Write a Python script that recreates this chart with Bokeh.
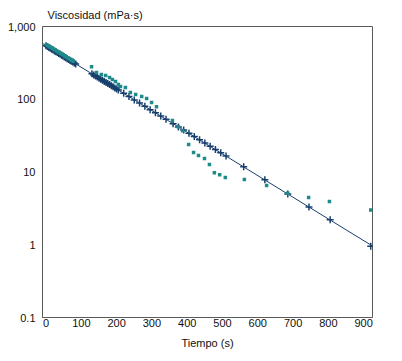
from bokeh.plotting import figure
from bokeh.models import Range1d, FixedTicker
from bokeh.embed import file_html
from bokeh.resources import INLINE

# Series A (crosses) - time (s) and viscosity (mPa·s)
time_a = [0, 4, 8, 12, 16, 20, 24, 28, 32, 36, 40, 44, 48, 52, 56, 60, 64, 68, 72, 76, 80, 84,
          130, 135, 140, 145, 150, 155, 160, 165, 170, 175, 180, 185, 190, 195, 200, 205,
          220, 235, 250, 265, 280, 295, 310, 325, 340, 360, 375, 390, 405, 420, 435, 450,
          465, 480, 495, 510, 560, 620, 685, 745, 805, 920]
visc_a = [545, 530, 516, 502, 488, 475, 462, 450, 438, 426, 414, 403, 392, 382, 371, 361, 352,
          342, 333, 324, 315, 306,
          224, 216, 209, 202, 195, 188, 182, 176, 170, 164, 159, 153, 148, 143, 138, 134,
          121, 109, 98, 89, 80, 72, 65, 59, 53, 46, 41.7, 37.7, 34.0, 30.7, 27.7, 25.0,
          22.6, 20.4, 18.4, 16.6, 11.8, 7.8, 5.0, 3.3, 2.2, 0.95]

# Series B (squares)
time_b = [1, 5, 9, 13, 17, 21, 25, 29, 33, 37, 41, 45, 49, 53, 57, 61, 65, 69, 73, 77,
          129, 143, 157, 169, 180, 188, 197, 205, 211, 225, 239, 254, 271, 285, 299, 313,
          358, 375, 387, 404, 418, 432, 449, 463, 477, 492, 508, 562, 625, 685, 744, 803, 920]
visc_b = [560, 548, 533, 519, 505, 491, 478, 465, 452, 440, 428, 416, 405, 394, 383, 373, 363,
          353, 343, 334,
          280, 233, 219, 212, 199, 187, 175, 160, 150, 145, 124, 116, 109, 102, 90, 79,
          51, 42, 37, 23.9, 18.5, 16.9, 15.3, 12.7, 9.8, 9.2, 8.4, 7.9, 6.5, 5.1, 4.46, 3.94, 3.0]

# Fitted exponential line endpoints
fit_time = [-10, 925]
fit_visc = [584, 0.96]

x_ticks = [0, 100, 200, 300, 400, 500, 600, 700, 800, 900]
y_ticks = [0.1, 1, 10, 100, 1000]
y_tick_labels = {0.1: "0.1", 1: "1", 10: "10", 100: "100", 1000: "1,000"}

FONT = "Liberation Sans"
NAVY = "#173f6e"
TEAL = "#1f8a8a"
GRAY = "#5a5a5a"

p = figure(frame_width=330, frame_height=291, output_backend="svg", toolbar_location=None,
           x_range=Range1d(-10, 925), y_range=Range1d(0.1, 1000), y_axis_type="log",
           min_border_left=42, min_border_right=19, min_border_top=0, min_border_bottom=0,
           title="Viscosidad (mPa·s)")
p.background_fill_color = "white"
p.border_fill_color = "white"
p.outline_line_color = GRAY
p.grid.visible = False

p.title.align = "left"
p.title.offset = 5
p.title.text_font = FONT
p.title.text_font_size = "11px"
p.title.text_font_style = "normal"
p.title.text_color = "#111111"
p.title.standoff = 12
p.title.vertical_align = "bottom"

p.xaxis.ticker = FixedTicker(ticks=x_ticks)
p.yaxis.ticker = FixedTicker(ticks=y_ticks)
p.yaxis.major_label_overrides = y_tick_labels
p.xaxis.axis_label = "Tiempo (s)"
for ax in (p.xaxis, p.yaxis):
    ax.axis_line_color = GRAY
    ax.major_tick_line_color = None
    ax.minor_tick_line_color = None
    ax.major_tick_out = 0
    ax.major_tick_in = 0
    ax.minor_tick_out = 0
    ax.minor_tick_in = 0
    ax.major_label_text_font = FONT
    ax.major_label_text_font_size = "11px"
    ax.major_label_text_color = "#111111"
    ax.axis_label_text_font = FONT
    ax.axis_label_text_font_size = "11px"
    ax.axis_label_text_font_style = "normal"
    ax.axis_label_text_color = "#111111"
p.xaxis.major_label_standoff = 1
p.xaxis.axis_label_standoff = 7
p.yaxis.major_label_standoff = 7

p.line(fit_time, fit_visc, line_color=NAVY, line_width=1)
p.scatter(time_a, visc_a, marker="cross", size=7, line_width=1.5, line_color=NAVY)
p.scatter(time_b, visc_b, marker="square", size=3.5, fill_color=TEAL, line_color=None)

open("out.html", "w").write(file_html(p, INLINE))
